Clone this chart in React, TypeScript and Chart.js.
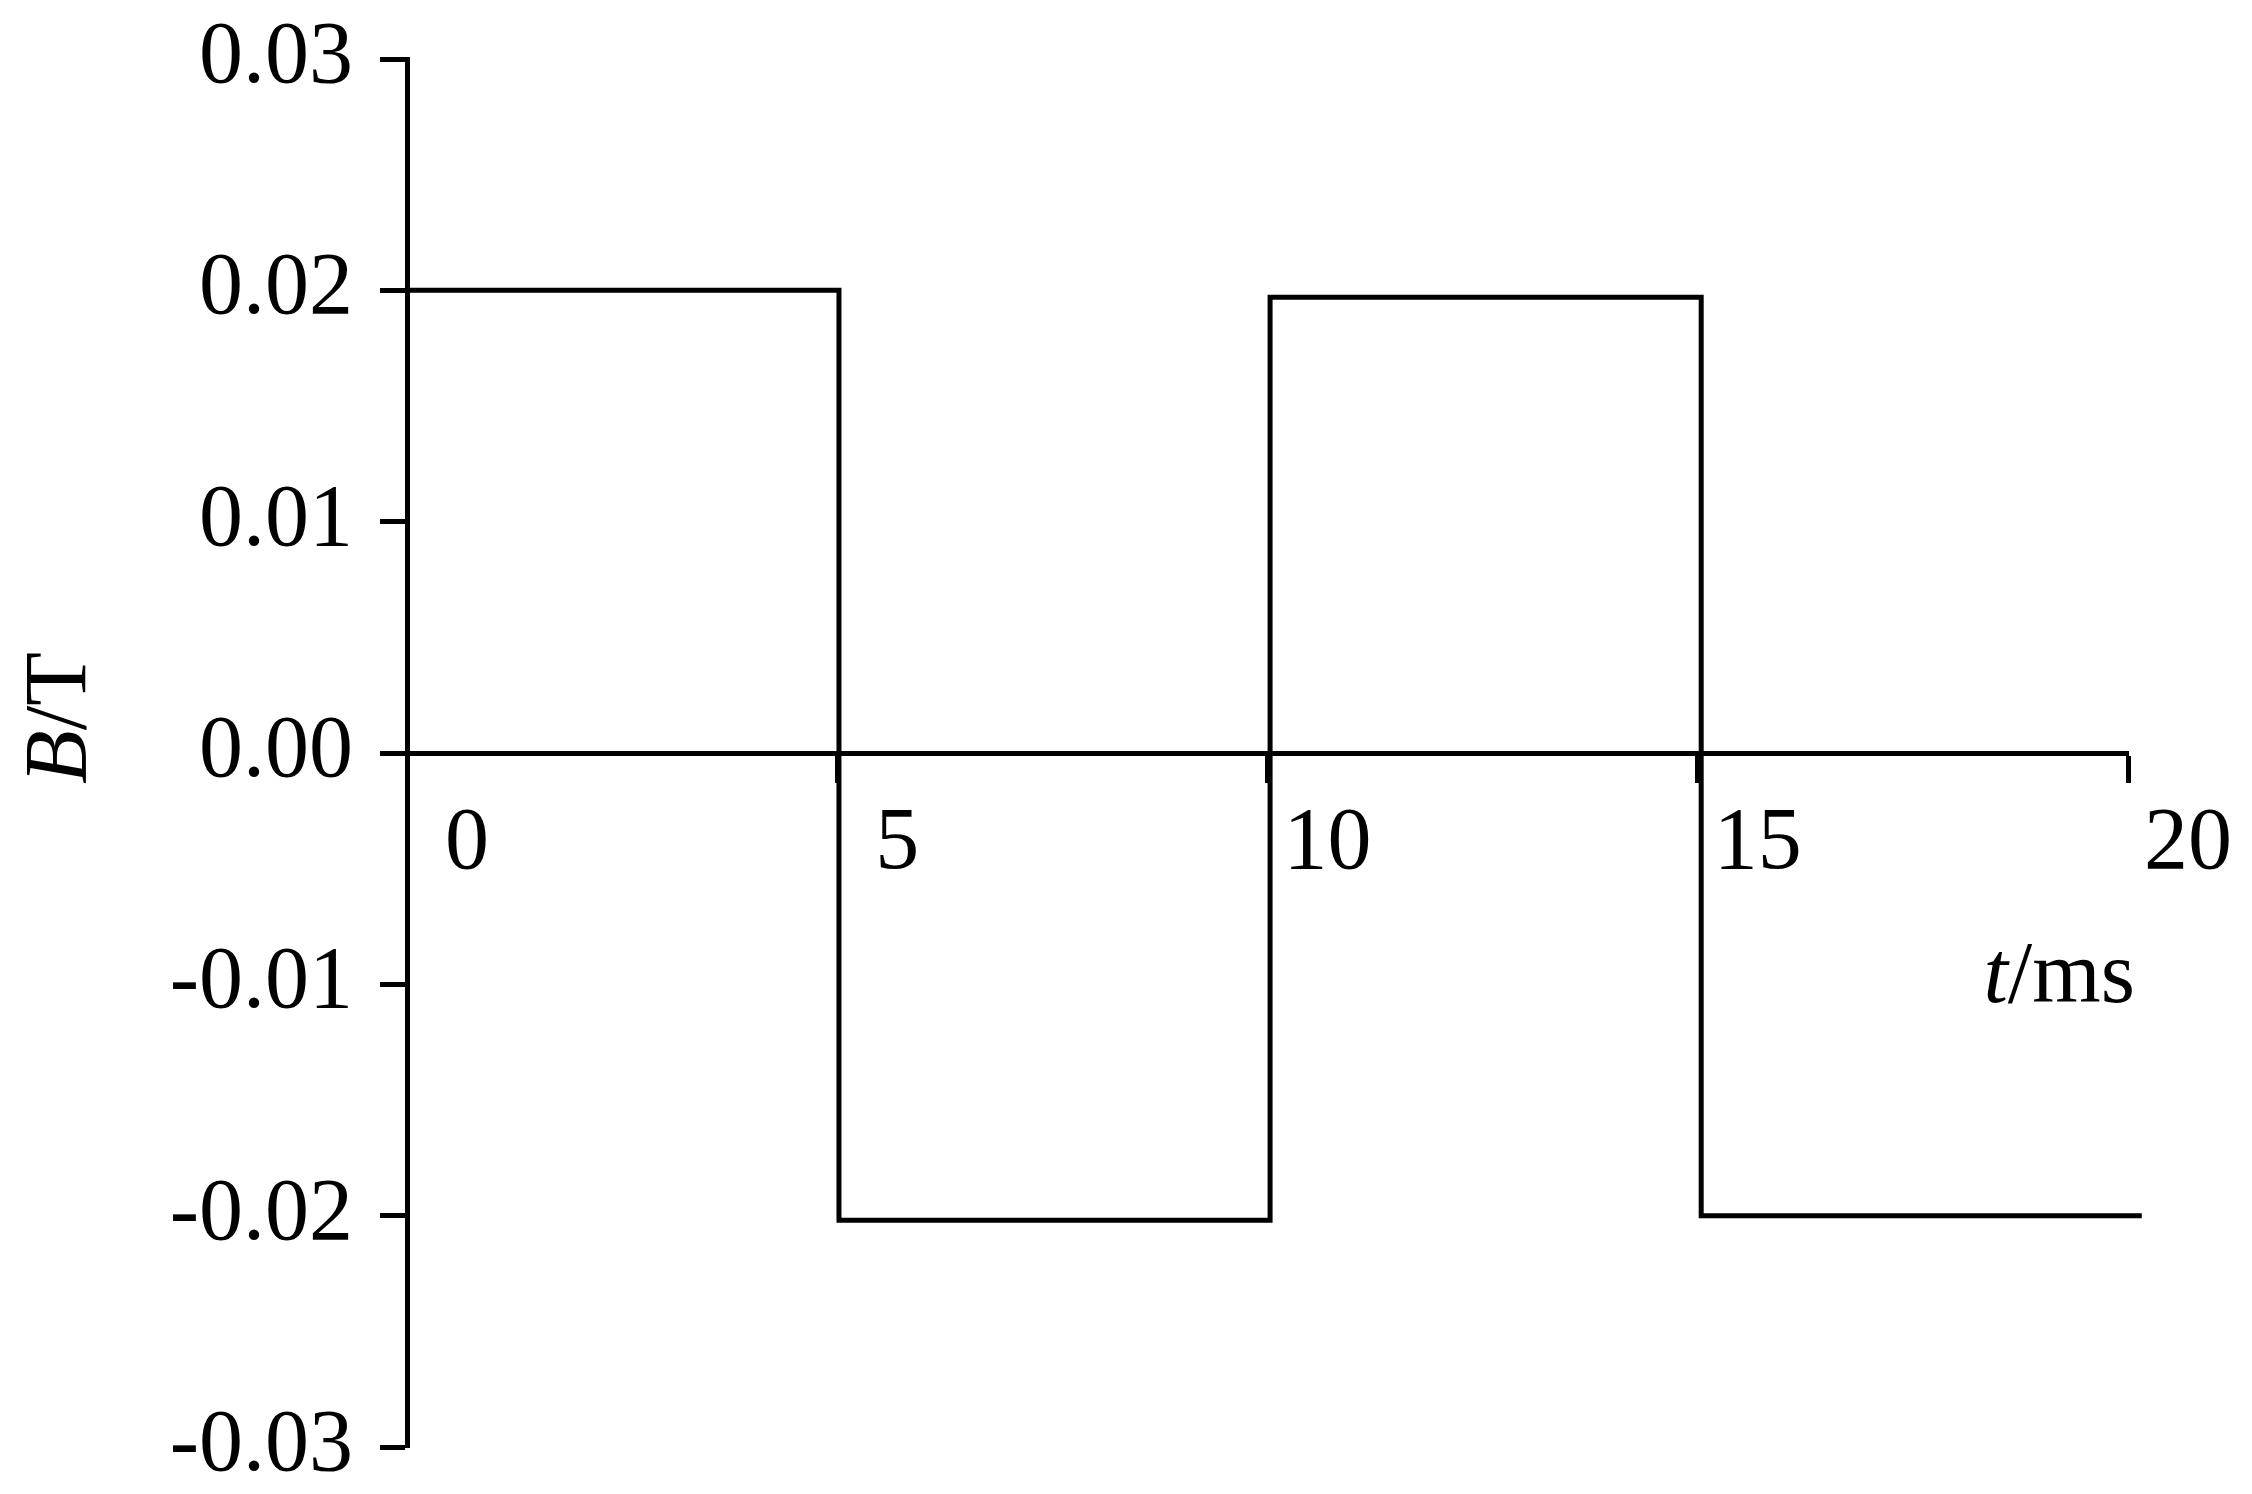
import React, { useEffect, useRef } from "react";
import { Chart, registerables } from "chart.js";

Chart.register(...registerables);

// Data (time in ms, flux density in T)
const timeMs = [0, 5.02, 5.02, 10.03, 10.03, 15.04, 15.04, 20.16];
const fluxT = [0.02, 0.02, -0.0202, -0.0202, 0.0197, 0.0197, -0.02, -0.02];
const xTickValues = [0, 5, 10, 15, 20];
const yTickValues = [-0.03, -0.02, -0.01, 0, 0.01, 0.02, 0.03];
const xTitleItalic = "t";
const xTitleRest = "/ms";
const yTitleItalic = "B";
const yTitleRest = "/T";

const W = 2252;
const H = 1494;
const FONT_FAMILY = '"Liberation Serif", "Times New Roman", serif';
const FONT_SIZE = 88;

const titlesPlugin = {
  id: "mixedTitles",
  beforeDraw(chart: any) {
    const ctx = chart.ctx;
    ctx.save();
    ctx.fillStyle = "#ffffff";
    ctx.fillRect(0, 0, chart.width, chart.height);
    ctx.restore();
  },
  afterDraw(chart: any) {
    const ctx = chart.ctx;
    ctx.save();
    ctx.fillStyle = "#000000";
    ctx.textBaseline = "alphabetic";
    ctx.textAlign = "left";
    const italic = `italic ${FONT_SIZE}px ${FONT_FAMILY}`;
    const normal = `${FONT_SIZE}px ${FONT_FAMILY}`;

    // x title "t/ms", right-aligned near the end of the axis
    ctx.font = italic;
    const wT = ctx.measureText(xTitleItalic).width;
    ctx.font = normal;
    const wMs = ctx.measureText(xTitleRest).width;
    const right = 2135;
    const base = 1002;
    const x0 = right - wT - wMs;
    ctx.font = italic;
    ctx.fillText(xTitleItalic, x0, base);
    ctx.font = normal;
    ctx.fillText(xTitleRest, x0 + wT, base);

    // y title "B/T", rotated
    ctx.font = italic;
    const wB = ctx.measureText(yTitleItalic).width;
    ctx.font = normal;
    const wSl = ctx.measureText(yTitleRest).width;
    const total = wB + wSl;
    ctx.translate(85, 718);
    ctx.rotate(-Math.PI / 2);
    ctx.font = italic;
    ctx.fillText(yTitleItalic, -total / 2, 0);
    ctx.font = normal;
    ctx.fillText(yTitleRest, -total / 2 + wB, 0);
    ctx.restore();
  },
};

export default function App() {
  const canvasRef = useRef<HTMLCanvasElement | null>(null);

  useEffect(() => {
    const canvas = canvasRef.current;
    if (!canvas) return;
    const points = timeMs.map((t, i) => ({ x: t, y: fluxT[i] }));
    const chart = new Chart(canvas, {
      type: "scatter",
      data: {
        datasets: [
          {
            data: points,
            showLine: true,
            borderColor: "#000000",
            borderWidth: 5,
            pointRadius: 0,
            pointHoverRadius: 0,
            fill: false,
            tension: 0,
            clip: false as any,
          },
        ],
      },
      options: {
        responsive: false,
        maintainAspectRatio: false,
        animation: false,
        devicePixelRatio: 1,
        layout: {
          padding: { left: 0, top: 59, right: W - 2128, bottom: H - 1447 },
        },
        plugins: {
          legend: { display: false },
          tooltip: { enabled: false },
          title: { display: false },
        },
        scales: {
          x: {
            type: "linear",
            position: { y: 0 } as any,
            min: 0,
            max: 20,
            afterBuildTicks: (scale: any) => {
              scale.ticks = xTickValues.map((v) => ({ value: v }));
            },
            afterFit: (scale: any) => {
              scale.paddingLeft = 0;
              scale.paddingRight = 0;
            },
            border: { display: true, color: "#000000", width: 5 },
            grid: {
              display: true,
              drawOnChartArea: false,
              drawTicks: true,
              tickLength: 27,
              tickWidth: 5,
              tickColor: "#000000",
            },
            ticks: {
              autoSkip: false,
              maxRotation: 0,
              minRotation: 0,
              labelOffset: 60,
              padding: 12,
              color: "#000000",
              font: { family: FONT_FAMILY, size: FONT_SIZE, lineHeight: 1.2 },
              callback: (v: any) => String(v),
            },
          },
          y: {
            type: "linear",
            position: "left",
            min: -0.03,
            max: 0.03,
            afterBuildTicks: (scale: any) => {
              scale.ticks = yTickValues.map((v) => ({ value: v }));
            },
            afterFit: (scale: any) => {
              scale.width = 407;
              scale.paddingTop = 0;
              scale.paddingBottom = 0;
            },
            border: { display: true, color: "#000000", width: 5 },
            grid: {
              display: true,
              drawOnChartArea: false,
              drawTicks: true,
              tickLength: 27,
              tickWidth: 5,
              tickColor: "#000000",
            },
            ticks: {
              autoSkip: false,
              padding: 27,
              color: "#000000",
              font: { family: FONT_FAMILY, size: FONT_SIZE, lineHeight: 1 },
              callback: (v: any) => Number(v).toFixed(2),
            },
          },
        },
      },
      plugins: [titlesPlugin],
    });
    return () => {
      chart.destroy();
    };
  }, []);

  return (
    <div style={{ position: "absolute", left: 0, top: 0, width: W, height: H, background: "#ffffff" }}>
      <canvas ref={canvasRef} width={W} height={H} style={{ display: "block", width: W, height: H }} />
    </div>
  );
}
